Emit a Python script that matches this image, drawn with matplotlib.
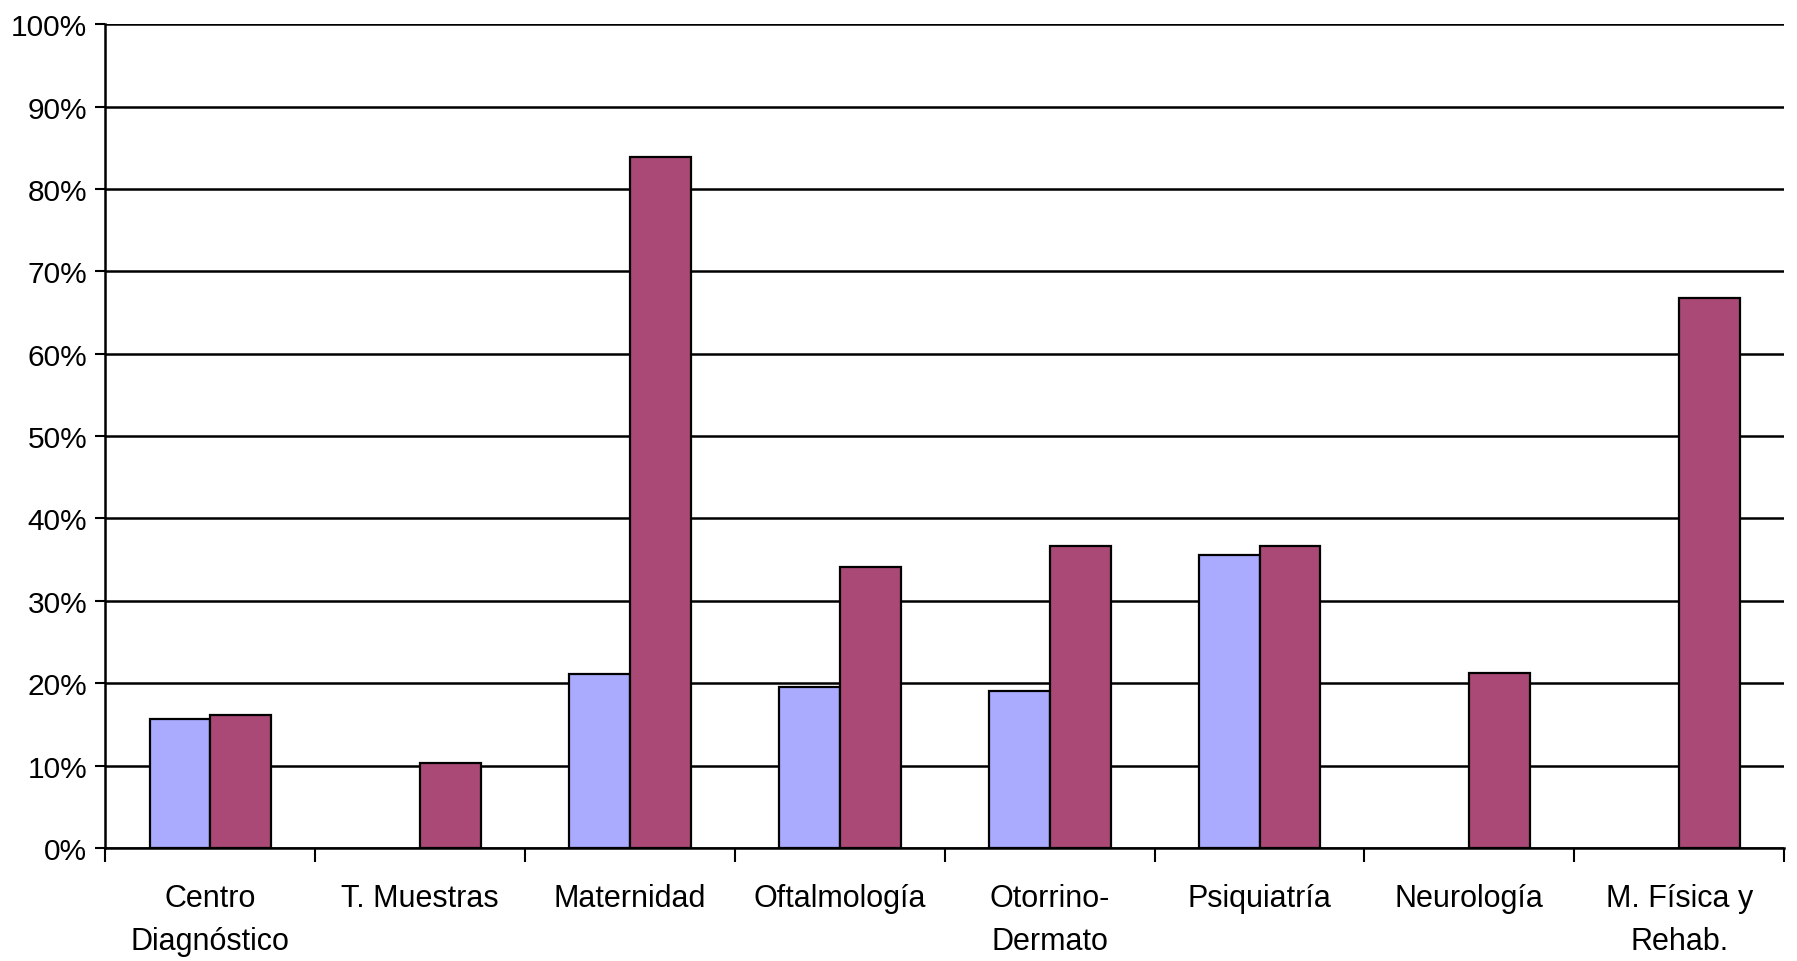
import matplotlib
matplotlib.use("Agg")
import matplotlib.pyplot as plt
import numpy as np
from matplotlib.ticker import FuncFormatter, FixedLocator

plt.rcParams['font.family'] = ['Liberation Sans Narrow', 'Liberation Sans', 'DejaVu Sans']

categories = ["Centro\nDiagnóstico", "T. Muestras", "Maternidad", "Oftalmología",
              "Otorrino-\nDermato", "Psiquiatría", "Neurología", "M. Física y\nRehab."]
serie_a = [0.156, np.nan, 0.211, 0.196, 0.191, 0.356, np.nan, np.nan]
serie_b = [0.161, 0.103, 0.839, 0.341, 0.366, 0.366, 0.213, 0.668]
y_ticks = [i / 10 for i in range(11)]

color_a = "#AAABFF"
color_b = "#AA4975"

fig = plt.figure(figsize=(17.97, 9.62), dpi=100)
ax = fig.add_axes([0.0587, 0.1175, 0.9341, 0.8563])

x = np.arange(len(categories))
w = 0.29
ax.bar(x - w / 2, serie_a, width=w, color=color_a, edgecolor="black", linewidth=1.6, zorder=3)
ax.bar(x + w / 2, serie_b, width=w, color=color_b, edgecolor="black", linewidth=1.6, zorder=3)

ax.set_xlim(-0.5, len(categories) - 0.5)
ax.set_ylim(0, 1.0)

ax.set_yticks(y_ticks)
ax.yaxis.set_major_formatter(FuncFormatter(lambda v, p: f"{int(round(v * 100))}%"))
ax.grid(axis="y", color="black", linewidth=1.8, zorder=1)

ax.xaxis.set_major_locator(FixedLocator(np.arange(-0.5, len(categories), 1.0)))
ax.xaxis.set_major_formatter(FuncFormatter(lambda v, p: ""))
ax.xaxis.set_minor_locator(FixedLocator(x))
ax.set_xticklabels(categories, minor=True)
ax.tick_params(axis="x", which="major", length=10, width=1.5, direction="out")
ax.tick_params(axis="x", which="minor", length=0, pad=25, labelsize=22)
ax.tick_params(axis="y", length=7, width=1.5, direction="out", labelsize=21.5, pad=6)

for lbl in ax.get_xticklabels(minor=True):
    lbl.set_linespacing(1.6)

for s in ["top", "right"]:
    ax.spines[s].set_visible(False)
for s in ["left", "bottom"]:
    ax.spines[s].set_linewidth(1.8)
    ax.spines[s].set_zorder(4)

fig.savefig("out.png", dpi=100)
